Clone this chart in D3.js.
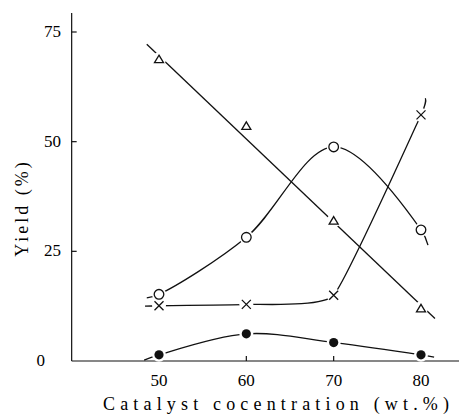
<!DOCTYPE html>
<html>
<head>
<meta charset="utf-8">
<script src="https://cdn.jsdelivr.net/npm/d3@7"></script>
</head>
<body style="margin:0">
<div class="chart"></div>
<script>
// catalyst concentration (wt.%)
const conc = [50, 60, 70, 80]

// yields
const triYield = [68.8, 53.6, 32.0, 12.0]
const circYield = [15.2, 28.2, 48.8, 29.9]
const crossYield = [12.6, 12.9, 15.0, 56.1]
const dotYield = [1.4, 6.2, 4.2, 1.4]

// where the hand drawn curves start and stop beyond the points
const triFit = [[48.6, 72.2], [81.6, 9.7]]
const circEnds = [[48.6, 14.4], [80.8, 26.4]]
const crossEnds = [[48.4, 12.5], [80.5, 59.9]]
const dotEnds = [[48.3, 0.2], [81.5, 0.9]]

const xTicks = [50, 60, 70, 80]
const yTicks = [0, 25, 50, 75]

let width = 459
let height = 416
let serif = "\"Liberation Serif\", \"DejaVu Serif\", monospace"

let svg = d3.select(".chart")
  .append("svg")
  .attr("width", width)
  .attr("height", height)

let x = d3.scaleLinear().domain([50, 80]).range([159, 421])
let y = d3.scaleLinear().domain([0, 75]).range([361, 32])

// axes
let g = svg.append("g").attr("stroke", "#111").attr("stroke-width", 1.2)

g.append("line")
  .attr("x1", x(40)).attr("x2", width)
  .attr("y1", y(0)).attr("y2", y(0))
g.append("line")
  .attr("x1", x(40)).attr("x2", x(40))
  .attr("y1", y(0)).attr("y2", 13)

g.selectAll(".yt")
  .data(yTicks.filter(d => d > 0))
  .enter().append("line")
  .attr("x1", x(40)).attr("x2", x(40) + 5)
  .attr("y1", d => y(d)).attr("y2", d => y(d))

g.selectAll(".xt")
  .data(xTicks)
  .enter().append("line")
  .attr("x1", d => x(d)).attr("x2", d => x(d))
  .attr("y1", y(0)).attr("y2", y(0) - 5)

svg.selectAll(".ylab")
  .data(yTicks)
  .enter().append("text")
  .attr("x", d => d === 0 ? 45 : 61)
  .attr("y", d => y(d) + 5)
  .attr("text-anchor", "end")
  .style("font-family", serif)
  .style("font-size", "17px")
  .text(d => d)

svg.selectAll(".xlab")
  .data(xTicks)
  .enter().append("text")
  .attr("x", d => x(d))
  .attr("y", 386)
  .attr("text-anchor", "middle")
  .style("font-family", serif)
  .style("font-size", "17px")
  .text(d => d)

svg.append("text")
  .attr("x", 103)
  .attr("y", 410)
  .attr("textLength", 346)
  .attr("lengthAdjust", "spacing")
  .style("font-family", serif)
  .style("font-size", "18px")
  .text("Catalyst cocentration (wt.%)")

svg.append("text")
  .attr("transform", "translate(28,208) rotate(-90)")
  .attr("text-anchor", "middle")
  .style("font-family", serif)
  .style("font-size", "18px")
  .style("letter-spacing", "3px")
  .text("Yield (%)")

// curves
function curveLine(factory) {
  return d3.line()
    .x(d => x(d[0]))
    .y(d => y(d[1]))
    .curve(factory)
}

let smooth = curveLine(d3.curveCatmullRom.alpha(0.5))
let stiff = curveLine(d3.curveCardinal.tension(0.6))
let straight = curveLine(d3.curveLinear)

function pts(vals, ends) {
  return [ends[0]].concat(conc.map((c, i) => [c, vals[i]]), [ends[1]])
}

let lines = svg.append("g")
  .attr("fill", "none")
  .attr("stroke", "#111")
  .attr("stroke-width", 1.3)

lines.append("path").attr("d", straight(triFit))
lines.append("path").attr("d", smooth(pts(circYield, circEnds)))
lines.append("path").attr("d", stiff(pts(crossYield, crossEnds)))
lines.append("path").attr("d", smooth(pts(dotYield, dotEnds)))

// white gaps round the markers
let all = [triYield, circYield, crossYield, dotYield]
let halos = svg.append("g").attr("fill", "#fff")
all.forEach(vals => {
  halos.selectAll(null)
    .data(vals)
    .enter().append("circle")
    .attr("cx", (d, i) => x(conc[i]))
    .attr("cy", d => y(d))
    .attr("r", 7)
})

let marks = svg.append("g").attr("stroke", "#111").attr("stroke-width", 1.3)

marks.selectAll(".tri")
  .data(triYield)
  .enter().append("path")
  .attr("fill", "#fff")
  .attr("d", (d, i) => {
    let cx = x(conc[i]), cy = y(d)
    return `M${cx},${cy - 4} L${cx + 4.5},${cy + 3.5} L${cx - 4.5},${cy + 3.5} Z`
  })

marks.selectAll(".circ")
  .data(circYield)
  .enter().append("circle")
  .attr("fill", "#fff")
  .attr("cx", (d, i) => x(conc[i]))
  .attr("cy", d => y(d))
  .attr("r", 4.8)

marks.selectAll(".cross")
  .data(crossYield)
  .enter().append("path")
  .attr("fill", "none")
  .attr("d", (d, i) => {
    let cx = x(conc[i]), cy = y(d), s = 4.5
    return `M${cx - s},${cy - s} L${cx + s},${cy + s} M${cx - s},${cy + s} L${cx + s},${cy - s}`
  })

marks.selectAll(".dot")
  .data(dotYield)
  .enter().append("circle")
  .attr("fill", "#111")
  .attr("stroke", "none")
  .attr("cx", (d, i) => x(conc[i]))
  .attr("cy", d => y(d))
  .attr("r", 4.6)
</script>
</body>
</html>
